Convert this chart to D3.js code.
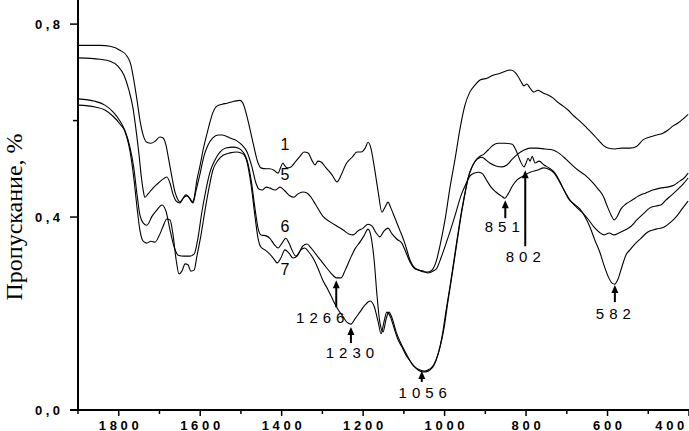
<!DOCTYPE html>
<html><head><meta charset="utf-8">
<script src="https://cdn.jsdelivr.net/npm/d3@7"></script>
<style>body{margin:0;background:#fff}svg{display:block}</style>
</head><body>
<svg id="chart" width="689" height="431"></svg>
<script>
// ---------- data ----------
const xTicksMajor = [1800,1600,1400,1200,1000,800,600,400];
const xTicksMinor = [1900,1700,1500,1300,1100,900,700,500];
const yTicksMajor = [0, 0.4, 0.8];
const yTickLabels = ["0,0","0,4","0,8"];
const yTicksMinor = [0.6];
const yTitle = "Пропускание, %";

const wn1 = [1900,1846,1821,1797,1780,1770,1763,1755,1748,1740,1731,1721,1711,1699,1691,1684,1677,1669,1662,1654,1650,1642,1635,1628,1620,1615,1608,1600,1593,1583,1576,1569,1559,1546,1534,1517,1502,1495,1483,1470,1458,1451,1438,1429,1419,1409,1402,1397,1392,1387,1377,1367,1355,1345,1335,1326,1318,1311,1303,1291,1276,1264,1254,1242,1227,1215,1205,1195,1188,1181,1173,1163,1154,1146,1139,1132,1122,1110,1097,1085,1075,1063,1050,1041,1031,1021,1011,999,987,974,962,950,938,925,913,896,881,864,849,837,827,820,812,805,798,790,781,771,758,746,734,722,709,697,682,668,650,636,623,611,599,582,565,545,528,513,496,479,464,452,439,427,415,402];
const t1 = [0.756,0.756,0.754,0.746,0.734,0.715,0.684,0.642,0.601,0.570,0.555,0.553,0.557,0.566,0.564,0.549,0.518,0.481,0.452,0.435,0.431,0.439,0.446,0.441,0.431,0.439,0.477,0.508,0.539,0.574,0.597,0.616,0.630,0.634,0.636,0.640,0.642,0.636,0.601,0.553,0.512,0.502,0.500,0.500,0.497,0.491,0.504,0.512,0.506,0.502,0.504,0.514,0.526,0.535,0.533,0.518,0.508,0.516,0.514,0.502,0.487,0.473,0.487,0.510,0.524,0.535,0.535,0.543,0.555,0.543,0.506,0.452,0.410,0.421,0.431,0.419,0.398,0.373,0.344,0.311,0.296,0.290,0.286,0.286,0.290,0.307,0.342,0.394,0.460,0.522,0.584,0.632,0.659,0.674,0.684,0.688,0.694,0.698,0.703,0.705,0.700,0.692,0.680,0.672,0.676,0.667,0.659,0.663,0.657,0.653,0.647,0.638,0.630,0.622,0.609,0.599,0.584,0.572,0.560,0.549,0.543,0.541,0.543,0.543,0.547,0.560,0.566,0.570,0.574,0.580,0.589,0.595,0.603,0.613];

const wn5 = [1900,1846,1821,1802,1787,1775,1765,1758,1750,1745,1740,1736,1728,1718,1706,1694,1682,1674,1667,1659,1650,1640,1632,1625,1618,1610,1600,1591,1581,1569,1556,1546,1527,1510,1497,1485,1473,1463,1456,1448,1438,1429,1416,1404,1392,1380,1370,1360,1348,1338,1328,1316,1299,1281,1264,1249,1235,1225,1213,1200,1188,1178,1168,1159,1149,1139,1129,1117,1105,1095,1085,1075,1065,1053,1041,1028,1019,1009,997,984,972,960,947,938,928,916,906,896,886,874,861,852,844,834,822,807,790,773,756,744,731,719,707,692,677,663,648,633,621,609,596,584,572,557,542,528,513,496,481,469,457,442,427,415,402];
const t5 = [0.730,0.727,0.723,0.713,0.694,0.663,0.626,0.584,0.528,0.487,0.456,0.441,0.448,0.458,0.468,0.477,0.483,0.470,0.448,0.433,0.429,0.441,0.444,0.439,0.429,0.456,0.491,0.526,0.549,0.564,0.570,0.570,0.564,0.558,0.549,0.535,0.504,0.470,0.458,0.456,0.462,0.460,0.456,0.462,0.454,0.444,0.441,0.448,0.452,0.450,0.441,0.425,0.402,0.390,0.381,0.373,0.365,0.363,0.371,0.377,0.385,0.381,0.367,0.359,0.371,0.377,0.365,0.354,0.346,0.327,0.307,0.294,0.290,0.288,0.284,0.288,0.294,0.315,0.344,0.377,0.410,0.444,0.470,0.485,0.491,0.493,0.489,0.475,0.462,0.452,0.444,0.439,0.448,0.464,0.477,0.485,0.493,0.497,0.502,0.499,0.491,0.475,0.456,0.435,0.421,0.410,0.396,0.379,0.369,0.363,0.367,0.363,0.367,0.373,0.381,0.394,0.406,0.419,0.423,0.425,0.435,0.446,0.458,0.468,0.481];

const wn6 = [1900,1858,1834,1814,1797,1785,1772,1763,1755,1748,1740,1731,1718,1706,1694,1684,1674,1664,1654,1640,1625,1615,1605,1596,1586,1576,1564,1551,1537,1519,1507,1495,1485,1475,1465,1458,1451,1438,1429,1419,1409,1399,1390,1382,1375,1365,1357,1348,1338,1328,1316,1303,1291,1279,1266,1254,1244,1232,1220,1208,1198,1188,1181,1173,1166,1159,1151,1144,1137,1129,1119,1110,1100,1090,1080,1070,1060,1050,1041,1031,1021,1011,1001,992,982,972,962,952,943,933,920,908,898,889,874,859,847,834,820,805,790,773,754,734,717,702,687,672,655,638,623,611,601,591,584,577,567,555,540,523,506,489,471,454,437,422,412,402];
const t6 = [0.645,0.640,0.632,0.618,0.599,0.580,0.543,0.502,0.446,0.404,0.388,0.383,0.402,0.415,0.425,0.412,0.373,0.338,0.321,0.319,0.319,0.323,0.359,0.410,0.456,0.493,0.518,0.535,0.543,0.545,0.543,0.535,0.518,0.477,0.415,0.377,0.363,0.361,0.356,0.344,0.336,0.346,0.356,0.346,0.332,0.319,0.327,0.340,0.344,0.336,0.323,0.309,0.296,0.284,0.274,0.274,0.290,0.313,0.334,0.348,0.361,0.375,0.361,0.311,0.238,0.182,0.162,0.187,0.203,0.191,0.162,0.143,0.126,0.110,0.095,0.087,0.083,0.081,0.083,0.089,0.104,0.131,0.172,0.224,0.278,0.334,0.390,0.439,0.479,0.503,0.520,0.524,0.518,0.512,0.506,0.504,0.508,0.520,0.531,0.539,0.543,0.543,0.541,0.539,0.531,0.520,0.508,0.497,0.487,0.473,0.458,0.444,0.423,0.404,0.394,0.400,0.417,0.427,0.435,0.444,0.450,0.456,0.460,0.462,0.466,0.475,0.481,0.491];

const wn7 = [1900,1858,1834,1814,1797,1785,1772,1763,1755,1748,1740,1731,1721,1711,1701,1691,1682,1674,1667,1659,1652,1645,1637,1630,1623,1615,1608,1598,1588,1578,1569,1556,1544,1527,1510,1495,1485,1475,1465,1458,1451,1438,1429,1419,1411,1402,1392,1382,1372,1362,1353,1343,1333,1323,1311,1299,1286,1274,1262,1249,1240,1230,1220,1208,1195,1183,1173,1163,1156,1149,1142,1134,1124,1115,1105,1095,1085,1075,1065,1055,1046,1036,1026,1016,1006,997,987,977,967,957,947,938,925,913,904,893,881,869,852,834,825,815,805,800,795,790,785,778,768,756,744,731,719,707,695,682,668,655,643,631,618,609,599,589,582,574,565,555,545,533,518,501,481,462,444,430,415,402];
const t7 = [0.632,0.628,0.622,0.609,0.593,0.578,0.535,0.481,0.419,0.373,0.350,0.346,0.350,0.348,0.361,0.381,0.396,0.394,0.365,0.311,0.282,0.288,0.303,0.301,0.288,0.290,0.319,0.363,0.415,0.462,0.497,0.518,0.528,0.533,0.535,0.531,0.514,0.466,0.398,0.356,0.338,0.330,0.323,0.313,0.305,0.315,0.332,0.325,0.315,0.319,0.332,0.336,0.327,0.315,0.294,0.269,0.249,0.228,0.209,0.193,0.182,0.178,0.189,0.203,0.218,0.226,0.215,0.182,0.158,0.182,0.203,0.195,0.170,0.147,0.131,0.114,0.102,0.091,0.083,0.079,0.079,0.083,0.093,0.116,0.153,0.203,0.255,0.311,0.367,0.419,0.462,0.493,0.516,0.526,0.530,0.539,0.549,0.553,0.553,0.551,0.539,0.518,0.504,0.512,0.522,0.516,0.526,0.512,0.516,0.508,0.502,0.493,0.477,0.456,0.437,0.427,0.417,0.400,0.379,0.352,0.325,0.301,0.278,0.263,0.261,0.272,0.296,0.321,0.332,0.344,0.356,0.369,0.375,0.379,0.390,0.402,0.419,0.433];

const curveNames = ["1","5","6","7"];
const peakLabels = ["1266","1230","1056","851","802","582"];
const peakWn = [1266,1230,1056,851,802,582];
const peakT = [0.269,0.172,0.081,0.435,0.497,0.259];

// ---------- layout ----------
const W = 689, H = 431;
const plot = {left: 78, right: 689, top: 0, bottom: 410};
const curveLabelPos = [[285,150],[285,180],[285,232],[285,275]];
const arrowLen = [27,16,11,18,76,17];
const peakLabelDx = [-16,-1,1,-3,-2,-1.5];
const peakLabelDy = [16,15,16,14,16,17];

const svg = d3.select("#chart");
const x = d3.scaleLinear().domain([1900, 400]).range([plot.left, plot.right]);
const y = d3.scaleLinear().domain([0, 0.85]).range([plot.bottom, plot.top]);

const series = [[wn1,t1],[wn5,t5],[wn6,t6],[wn7,t7]].map(([w,t]) => d3.zip(w,t));
const line = d3.line().x(d => x(d[0])).y(d => y(d[1])).curve(d3.curveMonotoneX);

svg.append("g").selectAll("path").data(series).join("path")
  .attr("d", line).attr("fill","none").attr("stroke","#000").attr("stroke-width",1.1);

// axes
const ax = svg.append("g").attr("stroke","#000");
ax.append("line").attr("x1",plot.left).attr("x2",plot.left).attr("y1",0).attr("y2",plot.bottom).attr("stroke-width",2);
ax.append("line").attr("x1",plot.left-8).attr("x2",W).attr("y1",plot.bottom).attr("y2",plot.bottom).attr("stroke-width",2);
ax.selectAll(".xM").data(xTicksMajor).join("line").attr("class","xM").attr("x1",d=>x(d)).attr("x2",d=>x(d)).attr("y1",plot.bottom).attr("y2",plot.bottom+6).attr("stroke-width",1.5);
ax.selectAll(".xm").data(xTicksMinor).join("line").attr("class","xm").attr("x1",d=>x(d)).attr("x2",d=>x(d)).attr("y1",plot.bottom).attr("y2",plot.bottom+4).attr("stroke-width",1.5);
ax.selectAll(".yM").data(yTicksMajor).join("line").attr("class","yM").attr("x1",plot.left-8).attr("x2",plot.left).attr("y1",d=>y(d)).attr("y2",d=>y(d)).attr("stroke-width",1.5);
ax.selectAll(".ym").data(yTicksMinor).join("line").attr("class","ym").attr("x1",plot.left-5).attr("x2",plot.left).attr("y1",d=>y(d)).attr("y2",d=>y(d)).attr("stroke-width",1.5);

const tickFont = "'Liberation Sans', Arial, sans-serif";
const lsX = 3.7;
svg.append("g").selectAll("text").data(xTicksMajor).join("text")
  .attr("x", d => x(d) >= W - 1 ? W - 1 : x(d) + lsX/2).attr("y", 429.5)
  .attr("text-anchor", d => x(d) >= W - 1 ? "end" : "middle")
  .style("font-family",tickFont).style("font-size","13px")
  .style("font-weight","bold").style("letter-spacing", lsX+"px").text(d => d);

const lsY = 3.5;
svg.append("g").selectAll("text").data(yTicksMajor).join("text")
  .attr("x", 60 + lsY).attr("y", d => y(d)).attr("dy","0.36em")
  .attr("text-anchor","end").style("font-family",tickFont).style("font-size","13px")
  .style("font-weight","bold").style("letter-spacing", lsY+"px").text((d,i) => yTickLabels[i]);

svg.append("text").attr("transform","translate(22,217) rotate(-90)")
  .attr("text-anchor","middle").style("font-family","'Liberation Serif','Times New Roman',serif")
  .style("font-size","24px").text(yTitle);

// curve labels
svg.append("g").selectAll("text").data(curveNames).join("text")
  .attr("x",(d,i)=>curveLabelPos[i][0]).attr("y",(d,i)=>curveLabelPos[i][1])
  .attr("text-anchor","middle").style("font-family",tickFont).style("font-size","16px").text(d=>d);

// peak arrows
const lsP = 5;
const pk = svg.append("g");
peakWn.forEach((w,i) => {
  const px = x(w), tip = y(peakT[i]), bot = tip + arrowLen[i];
  pk.append("line").attr("x1",px).attr("x2",px).attr("y1",tip+6).attr("y2",bot).attr("stroke","#000").attr("stroke-width",2);
  pk.append("path").attr("d",`M${px},${tip}L${px-3.5},${tip+8}L${px+3.5},${tip+8}Z`).attr("fill","#000");
  pk.append("text").attr("x", px + peakLabelDx[i] + lsP/2).attr("y", bot + peakLabelDy[i])
    .attr("text-anchor","middle").style("font-family",tickFont).style("font-size","15px")
    .style("letter-spacing", lsP+"px").text(peakLabels[i]);
});
</script>
</body></html>
